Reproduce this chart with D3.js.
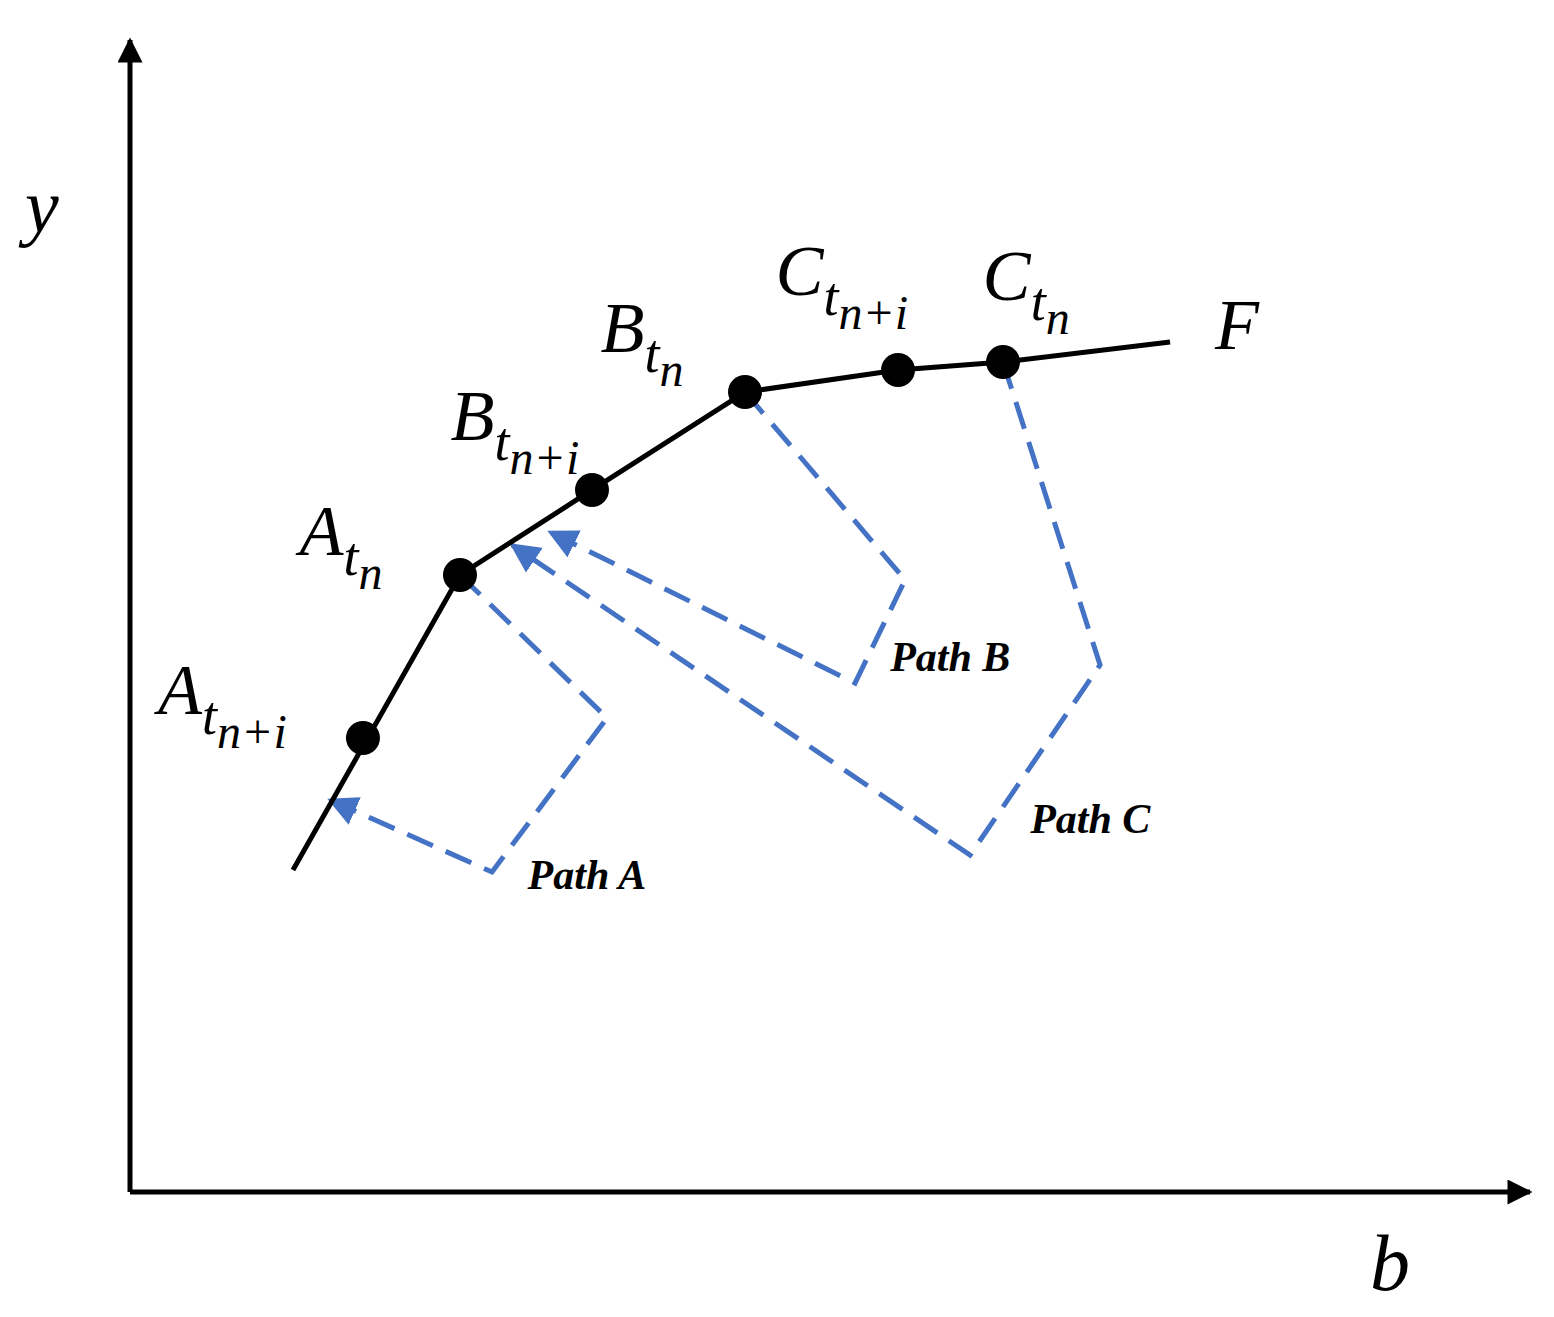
<!DOCTYPE html>
<html><head><meta charset="utf-8">
<script src="https://cdn.jsdelivr.net/npm/d3@7"></script>
<style>body{margin:0;background:#fff}</style>
</head><body>
<svg id="chart" width="1554" height="1317"></svg>
<script>
// frontier curve F (axis units 0..100)
const frontier = [[11.64,27.95],[23.57,53.56],[33.0,60.94],[43.93,69.44],[54.86,71.35],[62.36,72.05],[74.29,73.78]];
// marked points on F
const points = [[16.64,39.41],[23.57,53.56],[33.0,60.94],[43.93,69.44],[54.86,71.35],[62.36,72.05]];
// dashed adjustment paths
const pathA = [[23.57,53.56],[34.07,41.15],[25.86,27.78],[14.29,34.03]];
const pathB = [[43.93,69.44],[55.36,53.13],[51.79,44.18],[30.0,57.29]];
const pathC = [[62.36,72.05],[69.29,45.75],[60.0,29.25],[27.29,56.16]];
// point labels: letter, subscript tail, position
const pointLabels = [
  {m:"A", s:"n+i", x:2.0, y:41.5},
  {m:"A", s:"n", x:12.1, y:55.3},
  {m:"B", s:"n+i", x:22.9, y:65.3},
  {m:"B", s:"n", x:33.6, y:72.9},
  {m:"C", s:"n+i", x:46.1, y:77.9},
  {m:"C", s:"n", x:60.9, y:77.4}
];
const pathLabels = [{t:"Path A",x:28.4,y:26.3},{t:"Path B",x:54.3,y:45.2},{t:"Path C",x:64.3,y:31.2}];

const svg = d3.select("#chart");
const x = d3.scaleLinear().domain([0,100]).range([130,1530]);
const y = d3.scaleLinear().domain([0,100]).range([1192,40]);
const line = d3.line().x(d => x(d[0])).y(d => y(d[1]));
const blue = "#4472C4";

const defs = svg.append("defs");
defs.append("marker").attr("id","ax").attr("viewBox","0 0 10 10").attr("refX",9).attr("refY",5)
  .attr("markerWidth",6).attr("markerHeight",5).attr("markerUnits","strokeWidth").attr("orient","auto")
  .append("path").attr("d","M0,0L10,5L0,10z").attr("fill","#000");
defs.append("marker").attr("id","bl").attr("viewBox","0 0 10 10").attr("refX",9).attr("refY",5)
  .attr("markerWidth",6).attr("markerHeight",6).attr("markerUnits","strokeWidth").attr("orient","auto")
  .append("path").attr("d","M0,0L10,5L0,10z").attr("fill",blue);

// axes
svg.append("path").attr("d",line([[0,0],[0,100]])).attr("stroke","#000").attr("stroke-width",5).attr("fill","none").attr("marker-end","url(#ax)");
svg.append("path").attr("d",line([[0,0],[100,0]])).attr("stroke","#000").attr("stroke-width",5).attr("fill","none").attr("marker-end","url(#ax)");

// dashed paths
[pathA,pathB,pathC].forEach(p => {
  svg.append("path").attr("d",line(p)).attr("fill","none").attr("stroke",blue)
    .attr("stroke-width",5).attr("stroke-dasharray","28,14").attr("marker-end","url(#bl)");
});

// frontier
svg.append("path").attr("d",line(frontier)).attr("fill","none").attr("stroke","#000").attr("stroke-width",5);
svg.selectAll("circle").data(points).enter().append("circle")
  .attr("cx",d => x(d[0])).attr("cy",d => y(d[1])).attr("r",17).attr("fill","#000");

const serif = "'Liberation Serif','DejaVu Serif',serif";
pointLabels.forEach(d => {
  const t = svg.append("text").attr("x",x(d.x)).attr("y",y(d.y)).attr("font-family",serif)
    .attr("font-style","italic").attr("font-size",72);
  t.append("tspan").text(d.m);
  t.append("tspan").attr("dy",20).attr("font-size",54).text("t");
  t.append("tspan").attr("dy",14).attr("font-size",48).text(d.s);
});
svg.append("text").attr("x",x(77.5)).attr("y",y(73.2)).attr("font-family",serif).attr("font-style","italic").attr("font-size",72).text("F");
svg.append("text").attr("x",25).attr("y",232).attr("font-family",serif).attr("font-style","italic").attr("font-size",76).text("y");
svg.append("text").attr("x",1370).attr("y",1290).attr("font-family",serif).attr("font-style","italic").attr("font-size",80).text("b");

svg.selectAll(".pl").data(pathLabels).enter().append("text")
  .attr("x",d => x(d.x)).attr("y",d => y(d.y)).attr("font-family",serif)
  .attr("font-style","italic").attr("font-weight","bold").attr("font-size",42).text(d => d.t);
</script>
</body></html>
